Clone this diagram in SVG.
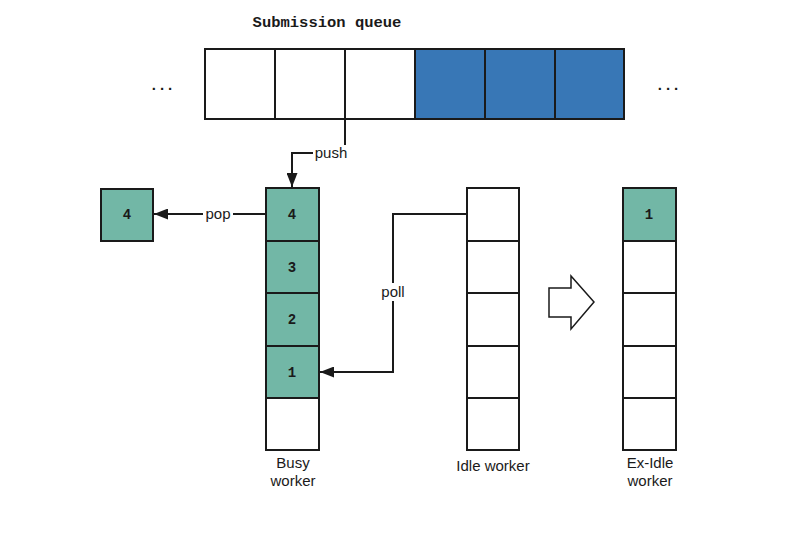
<svg xmlns="http://www.w3.org/2000/svg" width="800" height="542" viewBox="0 0 800 542">
<style>
.cell{fill:#fff;stroke:#1a1a1a;stroke-width:2}
.blue{fill:#3877b6;stroke:#1a1a1a;stroke-width:2}
.teal{fill:#72b7a6;stroke:#1a1a1a;stroke-width:2}
.mono{font-family:"Liberation Mono",monospace;font-weight:bold;font-size:14px;fill:#1a1a1a;text-anchor:middle}
.lbl{font-family:"Liberation Sans",Arial,sans-serif;font-size:15px;fill:#1a1a1a;text-anchor:middle}
.conn{fill:none;stroke:#1a1a1a;stroke-width:2}
.dots{font-family:"Liberation Sans",Arial,sans-serif;font-size:15px;font-weight:bold;fill:#1a1a1a;text-anchor:middle;letter-spacing:4px}
</style>
<defs>
<marker id="arr" viewBox="0 0 14 11" refX="14" refY="5.5" markerWidth="14" markerHeight="11" markerUnits="userSpaceOnUse" orient="auto">
<path d="M0,0 L14,5.5 L0,11 z" fill="#1a1a1a"/>
</marker>
</defs>
<rect width="800" height="542" fill="#fff"/>
<g id="queue">
<text x="327" y="27" class="mono" style="font-size:15.5px">Submission queue</text>
<rect class="cell" x="205" y="49" width="70" height="70"/>
<rect class="cell" x="275" y="49" width="70" height="70"/>
<rect class="cell" x="345" y="49" width="70" height="70"/>
<rect class="blue" x="415" y="49" width="70" height="70"/>
<rect class="blue" x="485" y="49" width="70" height="70"/>
<rect class="blue" x="555" y="49" width="69" height="70"/>
<text x="164" y="90" class="dots">...</text>
<text x="670" y="90" class="dots">...</text>
</g>
<g id="connectors">
<path class="conn" d="M345,119 V153 H292 V187" marker-end="url(#arr)" stroke-linejoin="miter"/>
<rect x="313" y="145" width="37" height="16" fill="#fff"/>
<text x="331" y="158" class="lbl">push</text>
<path class="conn" d="M266,214 H154" marker-end="url(#arr)"/>
<rect x="203" y="206" width="30" height="16" fill="#fff"/>
<text x="218" y="219" class="lbl">pop</text>
<path class="conn" d="M467,214 H393 V372 H320" marker-end="url(#arr)"/>
<rect x="379" y="283" width="28" height="18" fill="#fff"/>
<text x="393" y="297" class="lbl">poll</text>
</g>
<g id="popped">
<rect class="teal" x="101" y="189" width="52" height="52"/>
<text x="127" y="219" class="mono">4</text>
</g>
<g id="busy-worker">
<rect class="teal" x="266" y="188" width="53" height="53"/>
<rect class="teal" x="266" y="241" width="53" height="52"/>
<rect class="teal" x="266" y="293" width="53" height="53"/>
<rect class="teal" x="266" y="346" width="53" height="52"/>
<rect class="cell" x="266" y="398" width="53" height="52"/>
<text x="292" y="219" class="mono">4</text>
<text x="292" y="272" class="mono">3</text>
<text x="292" y="324" class="mono">2</text>
<text x="292" y="377" class="mono">1</text>
<text x="293" y="468" class="lbl">Busy</text>
<text x="293" y="486" class="lbl">worker</text>
</g>
<g id="idle-worker">
<rect class="cell" x="467" y="188" width="52" height="53"/>
<rect class="cell" x="467" y="241" width="52" height="52"/>
<rect class="cell" x="467" y="293" width="52" height="53"/>
<rect class="cell" x="467" y="346" width="52" height="52"/>
<rect class="cell" x="467" y="398" width="52" height="52"/>
<text x="493" y="471" class="lbl">Idle worker</text>
</g>
<g id="transition-arrow">
<path d="M549,288 H571 V276 L594,302 L571,329 V317 H549 Z" fill="#fff" stroke="#1a1a1a" stroke-width="1.5" stroke-linejoin="miter"/>
</g>
<g id="ex-idle-worker">
<rect class="teal" x="623" y="188" width="53" height="53"/>
<rect class="cell" x="623" y="241" width="53" height="52"/>
<rect class="cell" x="623" y="293" width="53" height="53"/>
<rect class="cell" x="623" y="346" width="53" height="52"/>
<rect class="cell" x="623" y="398" width="53" height="52"/>
<text x="649" y="219" class="mono">1</text>
<text x="650" y="468" class="lbl">Ex-Idle</text>
<text x="650" y="486" class="lbl">worker</text>
</g>
</svg>
